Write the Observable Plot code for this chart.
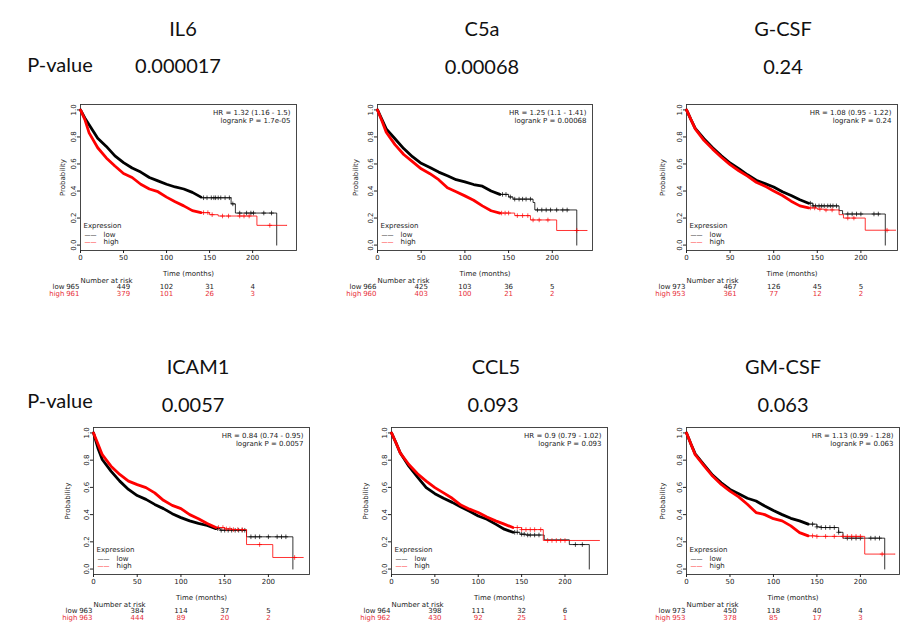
<!DOCTYPE html>
<html>
<head>
<meta charset="utf-8">
<script src="https://cdn.jsdelivr.net/npm/d3@7"></script>
<script src="https://cdn.jsdelivr.net/npm/@observablehq/plot@0.6"></script>
<style>
  body { margin: 0; background: #fff; }
  #root { position: relative; width: 918px; height: 626px; overflow: hidden; background: #fff; }
  .big { position: absolute; font-family: Lato, "Open Sans", sans-serif; font-size: 20px; line-height: 1; color: #111; transform: translate(-50%, -50%); white-space: nowrap; }
  .panel { position: absolute; }
</style>
</head>
<body>
<div id="root"></div>
<script>
// ---------------- data ----------------
const genes = ["IL6", "C5a", "G-CSF", "ICAM1", "CCL5", "GM-CSF"];
const pvalues = ["0.000017", "0.00068", "0.24", "0.0057", "0.093", "0.063"];
const hrText = ["HR = 1.32 (1.16 - 1.5)", "HR = 1.25 (1.1 - 1.41)", "HR = 1.08 (0.95 - 1.22)",
                "HR = 0.84 (0.74 - 0.95)", "HR = 0.9 (0.79 - 1.02)", "HR = 1.13 (0.99 - 1.28)"];
const logrankText = ["logrank P = 1.7e-05", "logrank P = 0.00068", "logrank P = 0.24",
                     "logrank P = 0.0057", "logrank P = 0.093", "logrank P = 0.063"];
const riskTimes = [0, 50, 100, 150, 200];
const yTicks = [0, 0.2, 0.4, 0.6, 0.8, 1.0];
const riskLow = [[965, 449, 102, 31, 4], [966, 425, 103, 36, 5], [973, 467, 126, 45, 5],
                 [963, 384, 114, 37, 5], [964, 398, 111, 32, 6], [973, 450, 118, 40, 4]];
const riskHigh = [[961, 379, 101, 26, 3], [960, 403, 100, 21, 2], [953, 361, 77, 12, 2],
                  [963, 444, 89, 20, 2], [962, 430, 92, 25, 1], [953, 378, 85, 17, 3]];

// survival read at these times (months) for the dense part of each curve
const T = [0, 5, 10, 20, 30, 40, 50, 60, 70, 80, 90, 100, 110, 120, 130, 140];
const lowDense = [
  [1, 0.94, 0.89, 0.79, 0.73, 0.66, 0.61, 0.57, 0.54, 0.50, 0.475, 0.45, 0.43, 0.415, 0.39, 0.355],
  [1, 0.93, 0.86, 0.787, 0.714, 0.654, 0.605, 0.574, 0.54, 0.513, 0.484, 0.467, 0.448, 0.436, 0.40, 0.375],
  [1, 0.93, 0.864, 0.787, 0.72, 0.66, 0.607, 0.566, 0.52, 0.48, 0.455, 0.43, 0.395, 0.367, 0.335, 0.31],
  [1, 0.89, 0.805, 0.72, 0.646, 0.585, 0.54, 0.512, 0.475, 0.444, 0.407, 0.378, 0.354, 0.336, 0.32, 0.297],
  [1, 0.93, 0.854, 0.756, 0.675, 0.598, 0.554, 0.52, 0.49, 0.456, 0.425, 0.39, 0.366, 0.33, 0.293, 0.27],
  [1, 0.92, 0.846, 0.768, 0.69, 0.634, 0.585, 0.554, 0.52, 0.50, 0.463, 0.43, 0.40, 0.373, 0.354, 0.33]
];
const highDense = [
  [1, 0.93, 0.83, 0.72, 0.645, 0.585, 0.53, 0.50, 0.45, 0.415, 0.395, 0.355, 0.32, 0.29, 0.255, 0.24],
  [1, 0.92, 0.835, 0.743, 0.67, 0.617, 0.564, 0.528, 0.484, 0.424, 0.395, 0.364, 0.332, 0.29, 0.254, 0.237],
  [1, 0.93, 0.86, 0.775, 0.71, 0.65, 0.595, 0.55, 0.51, 0.465, 0.436, 0.40, 0.367, 0.325, 0.29, 0.275],
  [1, 0.92, 0.84, 0.756, 0.695, 0.646, 0.62, 0.598, 0.56, 0.505, 0.468, 0.444, 0.40, 0.37, 0.334, 0.305],
  [1, 0.93, 0.854, 0.768, 0.70, 0.646, 0.598, 0.56, 0.52, 0.47, 0.44, 0.415, 0.383, 0.354, 0.33, 0.305],
  [1, 0.92, 0.84, 0.76, 0.683, 0.622, 0.573, 0.53, 0.476, 0.415, 0.40, 0.37, 0.354, 0.317, 0.268, 0.244]
];
// sparse tails: [time, survival] step points
const lowTail = [
  [[140, 0.355], [141, 0.35], [175, 0.305], [180, 0.237], [228, 0]],
  [[140, 0.375], [150, 0.356], [155, 0.34], [178, 0.315], [180, 0.26], [228, 0]],
  [[140, 0.31], [145, 0.29], [175, 0.255], [179, 0.23], [228, 0]],
  [[140, 0.297], [145, 0.285], [175, 0.237], [228, 0]],
  [[140, 0.27], [148, 0.256], [155, 0.25], [176, 0.215], [205, 0.18], [228, 0]],
  [[140, 0.33], [150, 0.31], [155, 0.305], [175, 0.27], [180, 0.227], [228, 0]]
];
const highTail = [
  [[140, 0.24], [150, 0.225], [160, 0.215], [205, 0.146], [240, 0.146]],
  [[140, 0.237], [157, 0.218], [175, 0.186], [205, 0.108], [240, 0.108]],
  [[140, 0.275], [150, 0.266], [158, 0.26], [175, 0.225], [180, 0.2], [205, 0.11], [240, 0.11]],
  [[140, 0.305], [150, 0.295], [158, 0.29], [175, 0.18], [205, 0.085], [240, 0.085]],
  [[140, 0.305], [150, 0.29], [175, 0.21], [240, 0.21]],
  [[140, 0.244], [150, 0.24], [205, 0.11], [240, 0.11]]
];
// censoring times on the tails
const lowCensor = [
  [143, 147, 152, 155, 157, 160, 163, 168, 173, 177, 185, 193, 198, 201, 213, 222],
  [143, 147, 152, 157, 162, 166, 170, 175, 183, 188, 193, 198, 205, 212, 217],
  [142, 145, 148, 152, 155, 158, 162, 165, 168, 172, 185, 190, 195, 200, 215, 220],
  [142, 146, 150, 154, 158, 162, 166, 170, 173, 180, 185, 190, 200, 210, 215, 220],
  [142, 145, 150, 153, 157, 160, 165, 170, 212, 220],
  [145, 150, 155, 160, 165, 170, 175, 185, 190, 195, 200, 212, 217, 222]
];
const highCensor = [
  [143, 148, 153, 165, 172, 185, 190, 196, 220],
  [142, 146, 150, 160, 166, 172, 178, 185, 195, 228],
  [142, 147, 153, 160, 167, 185, 192, 230],
  [143, 148, 152, 156, 160, 165, 170, 190, 230],
  [145, 150, 155, 160, 165, 172, 180, 185, 190, 195, 200],
  [145, 150, 160, 170, 180, 185, 190, 195, 200, 225]
];

// ---------------- layout ----------------
const frames = [
  {left: 80, top: 104, w: 216, h: 146, xmax: 251, yl: 20},
  {left: 377, top: 104, w: 215, h: 146, xmax: 246, yl: 24},
  {left: 686, top: 104, w: 211, h: 146, xmax: 242, yl: 26},
  {left: 93, top: 427, w: 216, h: 147, xmax: 247, yl: 28},
  {left: 391, top: 427, w: 216, h: 147, xmax: 249, yl: 28},
  {left: 686, top: 427, w: 213, h: 147, xmax: 245, yl: 26}
];
const titlePos = [[183, 28], [482, 28], [783, 28], [198, 366], [496, 366], [783, 366]];
const pvalPos = [[178, 65], [482, 66], [783, 66], [193, 404], [493, 404], [783, 404]];
const pLabelPos = [[60, 64], [60, 400]];

const RED = "#ff0000";
const RED_TXT = "#e8303a";

function stepAt(tail, t) {
  let s = tail[0][1];
  for (const [ti, si] of tail) if (ti <= t) s = si;
  return s;
}

const root = document.getElementById("root");
function addText(txt, [x, y]) {
  const d = document.createElement("div");
  d.className = "big";
  d.textContent = txt;
  d.style.left = x + "px";
  d.style.top = y + "px";
  root.appendChild(d);
}
genes.forEach((g, i) => addText(g, titlePos[i]));
pvalues.forEach((p, i) => addText(p, pvalPos[i]));
pLabelPos.forEach(pos => addText("P-value", pos));

const ML = 48, MR = 8, MT = 6, MB = 56;

frames.forEach((F, p) => {
  const lowD = T.map((t, i) => ({t, s: lowDense[p][i]}));
  const highD = T.map((t, i) => ({t, s: highDense[p][i]}));
  const lowT = lowTail[p].map(([t, s]) => ({t, s}));
  const highT = highTail[p].map(([t, s]) => ({t, s}));
  const lowC = lowCensor[p].map(t => ({t, s: stepAt(lowTail[p], t)}));
  const highC = highCensor[p].map(t => ({t, s: stepAt(highTail[p], t)}));
  const risk = riskTimes.map((t, i) => ({t, low: riskLow[p][i], high: riskHigh[p][i]}));
  const first = risk.slice(0, 1), rest = risk.slice(1);

  const chart = Plot.plot({
    width: ML + F.w + MR,
    height: MT + F.h + MB,
    marginLeft: ML, marginRight: MR, marginTop: MT, marginBottom: MB,
    x: {domain: [0, F.xmax]},
    y: {domain: [-0.04, 1.04]},
    style: {fontFamily: "'DejaVu Sans', sans-serif", fontSize: "7px", color: "#222", background: "transparent", overflow: "visible"},
    marks: [
      Plot.frame({stroke: "#333", strokeWidth: 0.9}),
      Plot.axisX({ticks: riskTimes, tickSize: 3, tickPadding: 2, fontSize: 7,
        label: "Time (months)", labelAnchor: "center", labelArrow: "none", labelOffset: 25}),
      Plot.axisY({ticks: yTicks, tickFormat: d3.format(".1f"), tickSize: 3, tickPadding: 2, tickRotate: -90, fontSize: 7,
        label: "Probability", labelAnchor: "center", labelArrow: "none", labelOffset: F.yl}),
      // low (black)
      Plot.line(lowT, {x: "t", y: "s", curve: "step-after", stroke: "#000", strokeWidth: 0.8}),
      Plot.line(lowD, {x: "t", y: "s", stroke: "#000", strokeWidth: 2.8}),
      Plot.dot(lowC, {x: "t", y: "s", symbol: "plus", r: 1.6, stroke: "#000", strokeWidth: 0.7}),
      // high (red)
      Plot.line(highT, {x: "t", y: "s", curve: "step-after", stroke: RED, strokeWidth: 0.8}),
      Plot.line(highD, {x: "t", y: "s", stroke: RED, strokeWidth: 2.8}),
      Plot.dot(highC, {x: "t", y: "s", symbol: "plus", r: 1.6, stroke: RED, strokeWidth: 0.7}),
      // HR annotation
      Plot.text([hrText[p]], {text: d => d, frameAnchor: "top-right", textAnchor: "end", dx: -6, dy: 6, fill: "#222"}),
      Plot.text([logrankText[p]], {text: d => d, frameAnchor: "top-right", textAnchor: "end", dx: -6, dy: 13.5, fill: "#222"}),
      // legend
      Plot.text(["Expression"], {text: d => d, frameAnchor: "bottom-left", textAnchor: "start", dx: 3, dy: -23, fill: "#222"}),
      Plot.text(["\u2014\u2014"], {text: d => d, frameAnchor: "bottom-left", textAnchor: "start", dx: 4, dy: -14, fontSize: 6, fill: "#000"}),
      Plot.text(["\u2014\u2014"], {text: d => d, frameAnchor: "bottom-left", textAnchor: "start", dx: 4, dy: -7, fontSize: 6, fill: RED}),
      Plot.text(["low"], {text: d => d, frameAnchor: "bottom-left", textAnchor: "start", dx: 23, dy: -14, fill: "#222"}),
      Plot.text(["high"], {text: d => d, frameAnchor: "bottom-left", textAnchor: "start", dx: 23, dy: -7, fill: "#222"}),
      // number at risk table
      Plot.text(["Number at risk"], {text: d => d, frameAnchor: "bottom-left", textAnchor: "start", dy: 32, fill: "#222"}),
      Plot.text(first, {x: "t", text: () => "low", frameAnchor: "bottom", textAnchor: "end", dx: -16, dy: 38.5, fill: "#222"}),
      Plot.text(first, {x: "t", text: () => "high", frameAnchor: "bottom", textAnchor: "end", dx: -16, dy: 45, fill: RED_TXT}),
      Plot.text(first, {x: "t", text: "low", frameAnchor: "bottom", textAnchor: "end", dx: -1, dy: 38.5, fill: "#222"}),
      Plot.text(first, {x: "t", text: "high", frameAnchor: "bottom", textAnchor: "end", dx: -1, dy: 45, fill: RED_TXT}),
      Plot.text(rest, {x: "t", text: "low", frameAnchor: "bottom", dy: 38.5, fill: "#222"}),
      Plot.text(rest, {x: "t", text: "high", frameAnchor: "bottom", dy: 45, fill: RED_TXT})
    ]
  });
  chart.classList.add("panel");
  chart.style.left = (F.left - ML) + "px";
  chart.style.top = (F.top - MT) + "px";
  root.appendChild(chart);
});
</script>
</body>
</html>
